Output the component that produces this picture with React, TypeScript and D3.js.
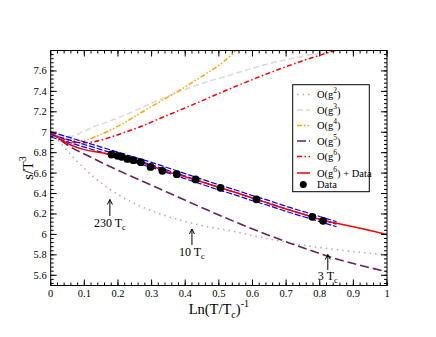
import React from "react";
import * as d3 from "d3";

type P = [number, number];

// O(g^2) perturbative curve
const O_G2: P[] = [[0,7.0],[0.02,6.93],[0.04,6.855],[0.06,6.78],[0.08,6.71],[0.1,6.645],[0.12,6.585],[0.14,6.53],[0.176,6.44],[0.216,6.36],[0.285,6.25],[0.364,6.16],[0.444,6.09],[0.543,6.03],[0.642,5.96],[0.741,5.9],[0.84,5.855],[1.0,5.8]];
// O(g^3)
const O_G3: P[] = [[0,7.0],[0.03,6.967],[0.057,6.96],[0.09,6.995],[0.117,7.037],[0.196,7.135],[0.265,7.232],[0.325,7.321],[0.394,7.412],[0.464,7.493],[0.533,7.558],[0.593,7.62],[0.642,7.665],[0.692,7.705],[0.741,7.737],[0.792,7.77],[0.85,7.8],[0.9,7.83]];
// O(g^4)
const O_G4: P[] = [[0,7.0],[0.03,6.95],[0.06,6.92],[0.087,6.915],[0.12,6.94],[0.147,6.975],[0.206,7.069],[0.256,7.167],[0.315,7.281],[0.375,7.395],[0.444,7.535],[0.513,7.688],[0.548,7.79],[0.56,7.83]];
// O(g^5)
const O_G5: P[] = [[0,7.0],[0.057,6.86],[0.117,6.76],[0.176,6.665],[0.246,6.56],[0.345,6.415],[0.444,6.27],[0.543,6.13],[0.642,6.0],[0.741,5.88],[0.84,5.77],[1.0,5.635]];
// O(g^6)
const O_G6: P[] = [[0,7.0],[0.04,6.93],[0.087,6.896],[0.127,6.906],[0.166,6.939],[0.216,6.994],[0.265,7.052],[0.325,7.135],[0.394,7.23],[0.444,7.3],[0.54,7.435],[0.642,7.57],[0.741,7.69],[0.835,7.79],[0.87,7.83]];
// O(g^6) + Data fit
const O_G6_DATA: P[] = [[0,7.0],[0.03,6.93],[0.06,6.875],[0.1,6.83],[0.15,6.8],[0.2,6.768],[0.25,6.722],[0.3,6.67],[0.35,6.612],[0.4,6.563],[0.45,6.513],[0.5,6.462],[0.55,6.41],[0.6,6.356],[0.65,6.3],[0.7,6.248],[0.75,6.2],[0.8,6.147],[0.85,6.11],[0.9,6.075],[0.95,6.038],[1.0,6.0]];
// error band (blue dashed)
const BAND_UP: P[] = [[0,7.003],[0.05,6.955],[0.1,6.905],[0.15,6.855],[0.2,6.805],[0.25,6.755],[0.3,6.705],[0.35,6.65],[0.4,6.595],[0.45,6.54],[0.5,6.485],[0.55,6.435],[0.6,6.38],[0.65,6.33],[0.7,6.275],[0.75,6.225],[0.8,6.175],[0.85,6.125]];
const BAND_MID: P[] = [[0,6.978],[0.05,6.93],[0.1,6.88],[0.15,6.83],[0.2,6.78],[0.25,6.73],[0.3,6.68],[0.35,6.625],[0.4,6.57],[0.45,6.515],[0.5,6.46],[0.55,6.41],[0.6,6.355],[0.65,6.305],[0.7,6.25],[0.75,6.2],[0.8,6.15],[0.85,6.1]];
const BAND_LO: P[] = [[0,6.953],[0.05,6.905],[0.1,6.855],[0.15,6.805],[0.2,6.755],[0.25,6.705],[0.3,6.655],[0.35,6.6],[0.4,6.545],[0.45,6.49],[0.5,6.435],[0.55,6.385],[0.6,6.33],[0.65,6.28],[0.7,6.225],[0.75,6.175],[0.8,6.125],[0.85,6.075]];
// lattice data points
const DATA_X = [0.181,0.199,0.211,0.228,0.246,0.268,0.297,0.332,0.375,0.431,0.505,0.612,0.778,0.81];
const DATA_Y = [6.782,6.769,6.759,6.739,6.727,6.707,6.661,6.622,6.59,6.538,6.456,6.343,6.172,6.133];

const X_TICKS = [0,0.1,0.2,0.3,0.4,0.5,0.6,0.7,0.8,0.9,1];
const Y_TICKS = [5.6,5.8,6,6.2,6.4,6.6,6.8,7,7.2,7.4,7.6];

const ANNOTATIONS = [
  { x: 0.176, yTip: 199.5, yEnd: 216, label: "230 T", ly: 227 },
  { x: 0.42, yTip: 229, yEnd: 245, label: "10 T", ly: 256 },
  { x: 0.824, yTip: 254.5, yEnd: 270, label: "3 T", ly: 279.5 },
];

const LEGEND = [
  { sup: "2", stroke: "#cfa0a6", dash: "1.5 4", y: 94.5 },
  { sup: "3", stroke: "#d9d9d9", dash: "6 3", y: 110 },
  { sup: "4", stroke: "#ffa500", dash: "5 2 1.5 2 1.5 2", y: 125.5 },
  { sup: "5", stroke: "#6b1f5f", dash: "9 3 1.5 3", y: 141 },
  { sup: "6", stroke: "#ff0000", dash: "5 2.5 1.5 2.5", y: 156.5 },
];

const FONT = "'Liberation Serif', 'Times New Roman', serif";

export default function App() {
  const L = 50.7, R = 387, T = 50.5, B = 285.5;
  const x = d3.scaleLinear().domain([0, 1]).range([L, R]);
  const y = d3.scaleLinear().domain([5.5, 7.8]).range([B, T]);
  const line = d3.line<P>().x(d => x(d[0])).y(d => y(d[1])).curve(d3.curveMonotoneX);

  const xMinor = d3.range(0, 1.0001, 0.02);
  const yMinor = d3.range(5.52, 7.8001, 0.04);

  const fmt = (v: number) => String(+v.toFixed(1));

  return (
    <svg width={436} height={337} style={{ position: "absolute", left: 0, top: 0, background: "#fff", fontFamily: FONT }}>
      <defs>
        <clipPath id="plot"><rect x={L} y={T} width={R - L} height={B - T} /></clipPath>
      </defs>
      <rect x={0} y={0} width={436} height={337} fill="#fff" />
      <g clipPath="url(#plot)" fill="none">
        <path d={line(O_G3)!} stroke="#d9d9d9" strokeWidth={1.5} strokeDasharray="6 3" />
        <path d={line(O_G4)!} stroke="#ffa500" strokeWidth={1.5} strokeDasharray="5 2 1.5 2 1.5 2" />
        <path d={line(O_G2)!} stroke="#cfa0a6" strokeWidth={1.6} strokeDasharray="1.5 4" />
        <path d={line(O_G5)!} stroke="#6b1f5f" strokeWidth={1.6} strokeDasharray="9 4" />
        <path d={line(O_G6)!} stroke="#ff0000" strokeWidth={1.5} strokeDasharray="5 2.5 1.5 2.5" />
        <path d={line(BAND_UP)!} stroke="#0000ff" strokeWidth={1.2} strokeDasharray="6 2" />
        <path d={line(BAND_MID)!} stroke="#0000ff" strokeWidth={1.2} strokeDasharray="6 2" />
        <path d={line(BAND_LO)!} stroke="#0000ff" strokeWidth={1.2} strokeDasharray="6 2" />
        <path d={line(O_G6_DATA)!} stroke="#ff0000" strokeWidth={1.5} />
        {DATA_X.map((dx, i) => (
          <circle key={i} cx={x(dx)} cy={y(DATA_Y[i])} r={3.9} fill="#000" />
        ))}
      </g>

      {/* frame */}
      <rect x={L} y={T} width={R - L} height={B - T} fill="none" stroke="#000" strokeWidth={1} />

      {/* ticks */}
      <g stroke="#000" strokeWidth={1}>
        {xMinor.map((v, i) => (
          <g key={"xm" + i}>
            <line x1={x(v)} x2={x(v)} y1={B} y2={B - 3} />
            <line x1={x(v)} x2={x(v)} y1={T} y2={T + 3} />
          </g>
        ))}
        {X_TICKS.map((v, i) => (
          <g key={"xM" + i}>
            <line x1={x(v)} x2={x(v)} y1={B} y2={B - 6} />
            <line x1={x(v)} x2={x(v)} y1={T} y2={T + 6} />
          </g>
        ))}
        {yMinor.map((v, i) => (
          <g key={"ym" + i}>
            <line x1={L} x2={L + 3} y1={y(v)} y2={y(v)} />
            <line x1={R} x2={R - 3} y1={y(v)} y2={y(v)} />
          </g>
        ))}
        {Y_TICKS.map((v, i) => (
          <g key={"yM" + i}>
            <line x1={L} x2={L + 6} y1={y(v)} y2={y(v)} />
            <line x1={R} x2={R - 6} y1={y(v)} y2={y(v)} />
          </g>
        ))}
      </g>

      {/* tick labels */}
      <g fontSize={10.5} fill="#000" style={{ fontFamily: FONT }}>
        {X_TICKS.map((v, i) => (
          <text key={"xl" + i} x={x(v)} y={B + 11.5} textAnchor="middle">{fmt(v)}</text>
        ))}
        {Y_TICKS.map((v, i) => (
          <text key={"yl" + i} x={L - 4} y={y(v) + 3.5} textAnchor="end">{fmt(v)}</text>
        ))}
      </g>

      {/* axis titles */}
      <text x={(L + R) / 2} y={314} textAnchor="middle" fontSize={14.5} fill="#000" style={{ fontFamily: FONT }}>
        Ln(T/T<tspan fontSize={10} dy={4}>c</tspan><tspan dy={-4}>)</tspan><tspan fontSize={10} dy={-7}>-1</tspan>
      </text>
      <text transform={`translate(33,${(T + B) / 2}) rotate(-90)`} textAnchor="middle" fontSize={14.5} fill="#000" style={{ fontFamily: FONT }}>
        s/T<tspan fontSize={10} dy={-7}>3</tspan>
      </text>

      {/* annotations */}
      {ANNOTATIONS.map((a, i) => (
        <g key={"an" + i}>
          <line x1={x(a.x)} x2={x(a.x)} y1={a.yTip} y2={a.yEnd} stroke="#000" strokeWidth={1} />
          <path d={`M${x(a.x) - 2.5},${a.yTip + 5} L${x(a.x)},${a.yTip} L${x(a.x) + 2.5},${a.yTip + 5}`} fill="none" stroke="#000" strokeWidth={1} />
          <text x={x(a.x)} y={a.ly} textAnchor="middle" fontSize={12} fill="#000" style={{ fontFamily: FONT }}>
            {a.label}<tspan fontSize={8.5} dy={3}>c</tspan>
          </text>
        </g>
      ))}

      {/* legend */}
      <rect x={292.7} y={84.7} width={76.6} height={107} fill="#fff" stroke="#000" strokeWidth={1} />
      {LEGEND.map((e, i) => (
        <g key={"lg" + i}>
          <line x1={297} x2={310} y1={e.y} y2={e.y} stroke={e.stroke} strokeWidth={1.6} strokeDasharray={e.dash} />
          <text x={317} y={e.y + 3.5} fontSize={10.5} fill="#000" style={{ fontFamily: FONT }}>
            O(g<tspan fontSize={7.5} dy={-5}>{e.sup}</tspan><tspan dy={5}>)</tspan>
          </text>
        </g>
      ))}
      <line x1={297} x2={310} y1={173} y2={173} stroke="#ff0000" strokeWidth={1.5} />
      <text x={317} y={176.5} fontSize={10.5} fill="#000" style={{ fontFamily: FONT }}>
        O(g<tspan fontSize={7.5} dy={-5}>6</tspan><tspan dy={5}>) + Data</tspan>
      </text>
      <circle cx={303.3} cy={184.5} r={3.5} fill="#000" />
      <text x={317} y={188} fontSize={10.5} fill="#000" style={{ fontFamily: FONT }}>Data</text>
    </svg>
  );
}
